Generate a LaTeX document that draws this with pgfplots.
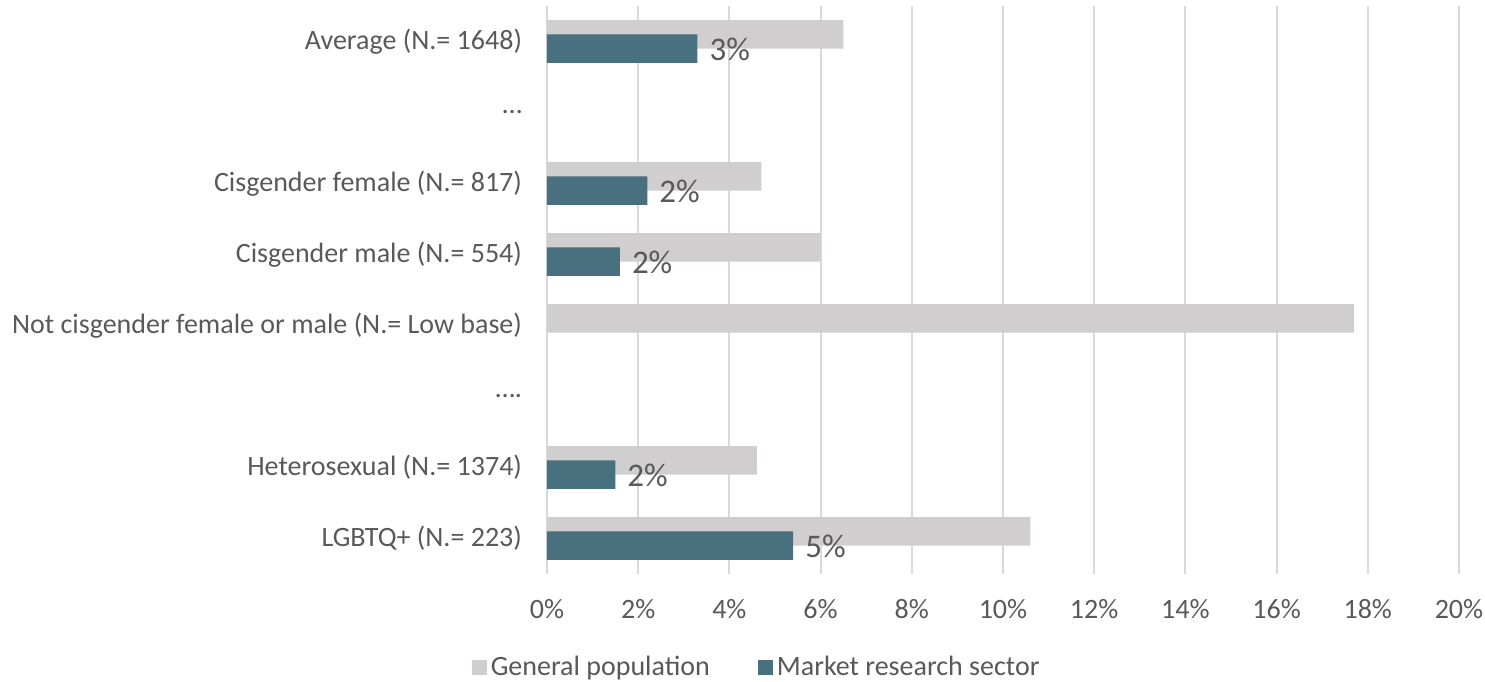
\documentclass[border=0pt]{standalone}
\usepackage{pgfplots}
\pgfplotsset{compat=1.18}
\usepackage{fontspec}
\setmainfont{Carlito}
\definecolor{grayb}{RGB}{208,206,207}
\definecolor{blueb}{RGB}{72,112,126}
\definecolor{txt}{RGB}{89,89,89}
\definecolor{gridc}{RGB}{217,217,217}
\begin{document}
\begin{tikzpicture}
\useasboundingbox (-273.5pt,-53.5pt) rectangle (469pt,287pt);
\begin{axis}[
  at={(0,0)}, anchor=south west,
  scale only axis, width=456pt, height=284pt,
  xmin=0, xmax=20, ymin=-0.5, ymax=7.5, y dir=reverse,
  xtick={0,2,...,20}, ytick={0,...,7},
  /pgf/number format/assume math mode=true,
  xticklabel={\pgfmathprintnumber{\tick}\%},
  yticklabels={Average (N.= 1648), …, Cisgender female (N.= 817), Cisgender male (N.= 554), Not cisgender female or male (N.= Low base), …., Heterosexual (N.= 1374), LGBTQ+ (N.= 223)},
  tick label style={font=\fontsize{14}{16}\selectfont, text=txt},
  xticklabel style={yshift=-9pt},
  yticklabel style={xshift=-9pt},
  axis line style={draw=none},
  major tick style={draw=none},
  xmajorgrids, major grid style={gridc, line width=1pt},
  legend style={at={(0.231,-0.165)}, anchor=center, draw=none, legend columns=2,
    font=\fontsize{14}{16}\selectfont, text=txt,
    /tikz/every even column/.append style={column sep=22pt}},
  legend image code/.code={\fill[#1] (0pt,-3.75pt) rectangle (7.5pt,3.75pt);},
]
\addlegendimage{fill=grayb, draw=none}
\addlegendentry{General population}
\addlegendimage{fill=blueb, draw=none}
\addlegendentry{Market research sector}
\addplot[forget plot, xbar, bar width=0.4, bar shift=-0.1, fill=grayb, draw=none]
  coordinates {(6.5,0) (4.7,2) (6.0,3) (17.7,4) (4.6,6) (10.6,7)};
\addplot[forget plot, xbar, bar width=0.4, bar shift=0.1, fill=blueb, draw=none,
  nodes near coords, point meta=explicit symbolic,
  nodes near coords style={anchor=west, font=\fontsize{16.5}{18}\selectfont, text=txt, xshift=2.5pt, yshift=-4pt}]
  table[meta=label] {
x y label
3.3 0 3\%
2.2 2 2\%
1.6 3 2\%
1.5 6 2\%
5.4 7 5\%
};
\end{axis}
\end{tikzpicture}
\end{document}
